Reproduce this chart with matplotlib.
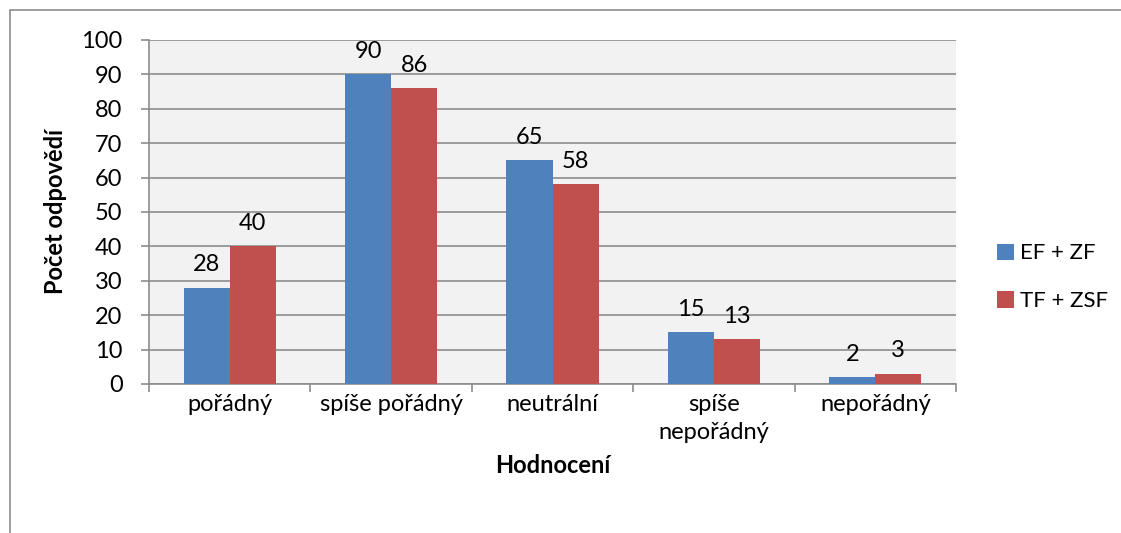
import matplotlib.pyplot as plt
import matplotlib.patches as patches
import numpy as np

categories = ['pořádný', 'spíše pořádný', 'neutrální', 'spíše\nnepořádný', 'nepořádný']
ef_zf = [28, 90, 65, 15, 2]
tf_zsf = [40, 86, 58, 13, 3]
series_names = ['EF + ZF', 'TF + ZSF']

plt.rcParams['font.family'] = ['Lato', 'DejaVu Sans']
FS = 17

fig = plt.figure(figsize=(11.21, 5.33), dpi=100)
ax = fig.add_axes([149 / 1121, 1 - 384 / 533, (956 - 149) / 1121, (384 - 40) / 533])

# outer chart border
fig.patches.append(patches.Rectangle((9.5 / 1121, -0.1), 1.2, 1 - 10.5 / 533 + 0.1,
                                     transform=fig.transFigure, fill=False,
                                     edgecolor='#8c8c8c', linewidth=1.2))

x = np.arange(len(categories))
w = 1 / 3.5
b1 = ax.bar(x - w / 2, ef_zf, w, color='#4F81BD', label=series_names[0], zorder=3)
b2 = ax.bar(x + w / 2, tf_zsf, w, color='#C0504D', label=series_names[1], zorder=3)

for bars, vals in ((b1, ef_zf), (b2, tf_zsf)):
    for rect, v in zip(bars, vals):
        ax.annotate(str(v), (rect.get_x() + rect.get_width() / 2, v),
                    xytext=(0, 9), textcoords='offset points',
                    ha='center', va='bottom', fontsize=FS)

ax.set_facecolor('#F2F2F2')
ax.set_xlim(-0.5, len(categories) - 0.5)
ax.set_ylim(0, 100)
ax.set_yticks(range(0, 101, 10))
ax.yaxis.grid(True, color='#8c8c8c', linewidth=1.2, zorder=0)
ax.set_axisbelow(True)

ax.set_xticks(x)
ax.set_xticklabels(categories, fontsize=FS, linespacing=1.4)
ax.set_xticks(np.arange(-0.5, len(categories)), minor=True)
ax.tick_params(axis='x', which='major', length=0, pad=7)
ax.tick_params(axis='x', which='minor', length=6, width=1.2, color='#8c8c8c')
ax.tick_params(axis='y', length=6, width=1.2, color='#8c8c8c', labelsize=FS, pad=13)

for side in ('top', 'right'):
    ax.spines[side].set_visible(False)
for side in ('left', 'bottom'):
    ax.spines[side].set_color('#8c8c8c')
    ax.spines[side].set_linewidth(1.2)

ax.set_xlabel('Hodnocení', fontsize=17, fontweight='bold', labelpad=8)
ax.set_ylabel('Počet odpovědí', fontsize=17, fontweight='bold', labelpad=10)

ax.legend(loc='center left', bbox_to_anchor=(1.026, 0.31), frameon=False,
          fontsize=16, handlelength=0.75, handleheight=0.75, handletextpad=0.3,
          labelspacing=1.25)

fig.savefig('out.png', dpi=100)
